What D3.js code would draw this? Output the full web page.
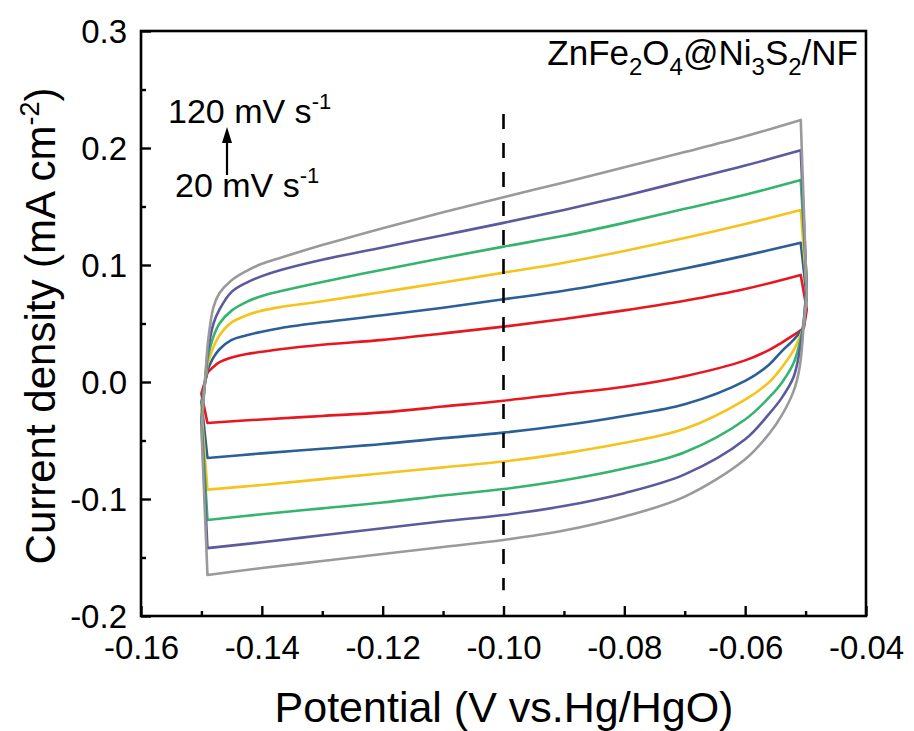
<!DOCTYPE html>
<html>
<head>
<meta charset="utf-8">
<script src="https://cdn.jsdelivr.net/npm/d3@7"></script>
<style>
  body { margin: 0; background: #fff; }
  svg { display: block; }
  text { font-family: "Liberation Sans", Arial, sans-serif; fill: #000; }
</style>
</head>
<body>
<svg id="chart" width="914" height="731"></svg>
<script>
// Cyclic voltammograms of ZnFe2O4@Ni3S2/NF at six scan rates (mV s^-1)
const scanRates = [20, 40, 60, 80, 100, 120];

// Anodic (forward) sweep potentials, V vs. Hg/HgO
const anodicPotential = [-0.149, -0.148, -0.147, -0.145, -0.1425, -0.14, -0.137, -0.13, -0.12, -0.11, -0.10, -0.09, -0.08, -0.07, -0.06, -0.0508];
// Anodic current densities, mA cm^-2
const anodic20  = [0.008, 0.013, 0.017, 0.021, 0.024, 0.0258, 0.028, 0.0318, 0.036, 0.0415, 0.0473, 0.0538, 0.0612, 0.0695, 0.0795, 0.0915];
const anodic40  = [0.010, 0.021, 0.028, 0.036, 0.040, 0.043, 0.046, 0.051, 0.057, 0.0635, 0.0707, 0.078, 0.087, 0.097, 0.108, 0.119];
const anodic60  = [0.015, 0.030, 0.040, 0.051, 0.057, 0.061, 0.064, 0.069, 0.077, 0.085, 0.0934, 0.102, 0.112, 0.123, 0.135, 0.147];
const anodic80  = [0.020, 0.039, 0.050, 0.061, 0.0685, 0.0735, 0.0775, 0.0855, 0.096, 0.106, 0.1157, 0.125, 0.136, 0.148, 0.160, 0.1726];
const anodic100 = [0.025, 0.050, 0.062, 0.077, 0.085, 0.0905, 0.0955, 0.1045, 0.115, 0.1255, 0.136, 0.147, 0.159, 0.172, 0.185, 0.198];
const anodic120 = [0.030, 0.064, 0.076, 0.087, 0.095, 0.101, 0.106, 0.117, 0.1315, 0.145, 0.158, 0.1705, 0.1835, 0.1965, 0.210, 0.224];

// Switching point at the positive end of the window
const rightVertexPotential = -0.0498;
const rightVertexCurrent = [0.062, 0.072, 0.078, 0.085, 0.080, 0.075];

// Cathodic (reverse) sweep potentials
const cathodicPotential = [-0.0503, -0.051, -0.052, -0.054, -0.056, -0.06, -0.07, -0.08, -0.09, -0.10, -0.11, -0.12, -0.13, -0.14, -0.149];
const cathodic20  = [0.046, 0.0435, 0.040, 0.0335, 0.0275, 0.0185, 0.005, -0.004, -0.010, -0.016, -0.021, -0.026, -0.029, -0.032, -0.035];
const cathodic40  = [0.047, 0.042, 0.036, 0.026, 0.015, 0.001, -0.019, -0.029, -0.037, -0.0433, -0.048, -0.053, -0.057, -0.061, -0.065];
const cathodic60  = [0.048, 0.038, 0.027, 0.012, 0.000, -0.015, -0.040, -0.052, -0.061, -0.068, -0.073, -0.078, -0.083, -0.088, -0.092];
const cathodic80  = [0.050, 0.033, 0.016, -0.001, -0.013, -0.032, -0.060, -0.074, -0.084, -0.0915, -0.097, -0.103, -0.108, -0.113, -0.118];
const cathodic100 = [0.052, 0.026, 0.004, -0.014, -0.027, -0.049, -0.079, -0.095, -0.106, -0.1137, -0.119, -0.125, -0.131, -0.137, -0.142];
const cathodic120 = [0.050, 0.012, -0.008, -0.029, -0.044, -0.066, -0.098, -0.115, -0.127, -0.135, -0.141, -0.147, -0.153, -0.159, -0.165];

// Switching point at the negative end of the window
const leftVertexPotential = -0.1500;
const leftVertexCurrent = [-0.010, -0.017, -0.024, -0.030, -0.035, -0.040];

// Reference potential marker
const markerPotential = -0.10;
const markerCurrentRange = [-0.178, 0.229];

// Axes
const xTicks = [-0.16, -0.14, -0.12, -0.10, -0.08, -0.06, -0.04];
const xTickLabels = ["-0.16", "-0.14", "-0.12", "-0.10", "-0.08", "-0.06", "-0.04"];
const xMinorTicks = [-0.15, -0.13, -0.11, -0.09, -0.07, -0.05];
const yTicks = [-0.2, -0.1, 0.0, 0.1, 0.2, 0.3];
const yTickLabels = ["-0.2", "-0.1", "0.0", "0.1", "0.2", "0.3"];
const yMinorTicks = [-0.15, -0.05, 0.05, 0.15, 0.25];

const anodic = [anodic20, anodic40, anodic60, anodic80, anodic100, anodic120];
const cathodic = [cathodic20, cathodic40, cathodic60, cathodic80, cathodic100, cathodic120];
const lineColors = ["#e8171f", "#2b5f96", "#f6c31c", "#34b46c", "#5b5a9d", "#9a9a9a"];

const svg = d3.select("#chart");
const plot = { left: 141, right: 866, top: 31, bottom: 616 };

const x = d3.scaleLinear().domain([-0.16, -0.04]).range([plot.left, plot.right]);
const y = d3.scaleLinear().domain([-0.2, 0.3]).range([plot.bottom, plot.top]);

// Smooth sweeps, sharp switching points
const smooth = d3.line().x(d => x(d[0])).y(d => y(d[1])).curve(d3.curveCatmullRom.alpha(0.5));
const straight = d3.line().x(d => x(d[0])).y(d => y(d[1]));

const loops = scanRates.map((rate, i) => {
  const up = anodicPotential.map((v, k) => [v, anodic[i][k]]);
  const down = cathodicPotential.map((v, k) => [v, cathodic[i][k]]);
  const rv = [rightVertexPotential, rightVertexCurrent[i]];
  const lv = [leftVertexPotential, leftVertexCurrent[i]];
  const d = smooth(up)
    + straight([up[up.length - 1], rv, down[0]]).replace(/^M/, "L")
    + smooth(down).replace(/^M/, "L")
    + straight([down[down.length - 1], lv, up[0]]).replace(/^M/, "L");
  return { rate, color: lineColors[i], d };
});

svg.append("g")
  .selectAll("path")
  .data(loops)
  .join("path")
  .attr("d", d => d.d)
  .attr("fill", "none")
  .attr("stroke", d => d.color)
  .attr("stroke-width", 2.6)
  .attr("stroke-linejoin", "round");

// Dashed marker
svg.append("line")
  .attr("x1", x(markerPotential)).attr("x2", x(markerPotential))
  .attr("y1", y(markerCurrentRange[1])).attr("y2", y(markerCurrentRange[0]))
  .attr("stroke", "#000").attr("stroke-width", 2.6)
  .attr("stroke-dasharray", "15,14");

// Bottom axis (ticks point inward)
const xAxis = svg.append("g")
  .attr("transform", `translate(0,${plot.bottom})`)
  .call(d3.axisBottom(x).tickValues(xTicks).tickSize(-10).tickPadding(0)
    .tickFormat((d, i) => xTickLabels[i]));
xAxis.selectAll("text").attr("y", 43).attr("dy", null)
  .attr("font-size", 33).attr("font-family", "Liberation Sans, Arial, sans-serif");
svg.append("g")
  .attr("transform", `translate(0,${plot.bottom})`)
  .call(d3.axisBottom(x).tickValues(xMinorTicks).tickSize(-5).tickFormat(""));

// Left axis
const yAxis = svg.append("g")
  .attr("transform", `translate(${plot.left},0)`)
  .call(d3.axisLeft(y).tickValues(yTicks).tickSize(-10).tickPadding(14)
    .tickFormat((d, i) => yTickLabels[i]));
yAxis.selectAll("text").attr("dy", "0.36em")
  .attr("font-size", 33).attr("font-family", "Liberation Sans, Arial, sans-serif");
svg.append("g")
  .attr("transform", `translate(${plot.left},0)`)
  .call(d3.axisLeft(y).tickValues(yMinorTicks).tickSize(-5).tickFormat(""));

svg.selectAll(".domain").remove();
svg.selectAll(".tick line").attr("stroke", "#000").attr("stroke-width", 2.4);

// Frame
svg.append("rect")
  .attr("x", plot.left).attr("y", plot.top)
  .attr("width", plot.right - plot.left).attr("height", plot.bottom - plot.top)
  .attr("fill", "none").attr("stroke", "#000").attr("stroke-width", 2.6);

// Axis titles
svg.append("text")
  .attr("x", 504).attr("y", 722)
  .attr("text-anchor", "middle").attr("font-size", 43)
  .text("Potential (V vs.Hg/HgO)");

const yTitle = svg.append("text")
  .attr("transform", "translate(55,326) rotate(-90)")
  .attr("text-anchor", "middle").attr("font-size", 42);
yTitle.append("tspan").text("Current density (mA cm");
yTitle.append("tspan").attr("font-size", 27).attr("dy", -16).text("-2");
yTitle.append("tspan").attr("dy", 16).text(")");

// Sample label with subscripts
const sample = svg.append("text")
  .attr("x", 858).attr("y", 65).attr("text-anchor", "end").attr("font-size", 35);
[["ZnFe", 0], ["2", 1], ["O", 0], ["4", 1], ["@Ni", 0], ["3", 1], ["S", 0], ["2", 1], ["/NF", 0]]
  .reduce((prev, [t, sub]) => {
    const ts = sample.append("tspan").text(t);
    if (sub) ts.attr("font-size", 24).attr("dy", prev ? 0 : 10);
    else ts.attr("dy", prev ? -10 : 0);
    return sub;
  }, 0);

// Scan-rate annotation
function rateLabel(xPos, yPos, value) {
  const t = svg.append("text").attr("x", xPos).attr("y", yPos).attr("font-size", 34);
  t.append("tspan").text(`${value} mV s`);
  t.append("tspan").attr("font-size", 22).attr("dy", -14).text("-1");
}
rateLabel(168, 123, scanRates[scanRates.length - 1]);
rateLabel(175, 197, scanRates[0]);

svg.append("line")
  .attr("x1", 227).attr("x2", 227).attr("y1", 175).attr("y2", 140)
  .attr("stroke", "#000").attr("stroke-width", 2.2);
svg.append("path")
  .attr("d", "M227,127 L222,143 L232,143 Z")
  .attr("fill", "#000");
</script>
</body>
</html>
